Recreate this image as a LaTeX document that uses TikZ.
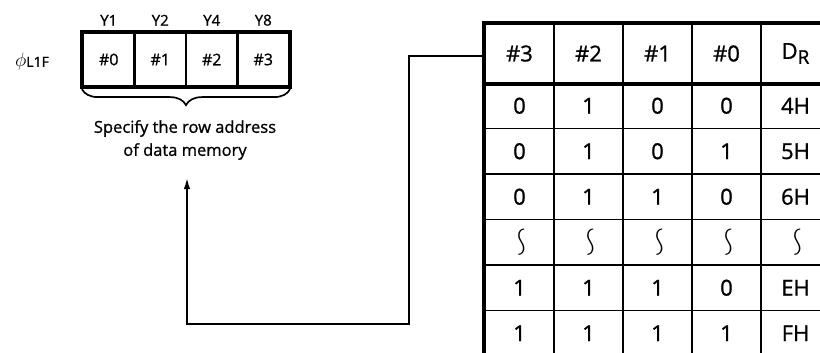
\documentclass[tikz,border=0pt]{standalone}
\usepackage{fontspec}
\setmainfont{Open Sans}[FakeBold=1]
\usepackage{graphicx}
\usetikzlibrary{arrows.meta, positioning, calc, decorations.pathreplacing}
\newcommand{\wavy}{\reflectbox{\rotatebox{90}{\scalebox{1.9}[1.3]{$\sim$}}}}

\begin{document}
\begin{tikzpicture}[x=1pt, y=-1pt,
        regcell/.style={rectangle, draw, line width=2.2pt, minimum width=51.5pt, minimum height=53pt, inner sep=0pt, font=\fontsize{16}{16}\selectfont},
        tabcell/.style={rectangle, draw, line width=1.8pt, minimum width=69pt, minimum height=45.5pt, inner sep=0pt, font=\fontsize{22}{22}\selectfont},
        hdcell/.style={tabcell, minimum height=59pt},
        bitlbl/.style={font=\fontsize{15}{15}\selectfont, inner sep=1pt},
        note/.style={font=\fontsize{16.5}{23}\selectfont, align=center},
        thickline/.style={line width=3.5pt},
        arr/.style={-{Latex[length=11pt, width=6.5pt]}, line width=1.7pt},
    ]
    \clip (0,0) rectangle (820,353);
    % register phi L1F
    \node[font=\fontsize{14}{14}\selectfont] at (32,62) (regname) {\scalebox{1.35}{$\phi$}L1F};
    \node[regcell] at (108.75,59.5) (r0) {\#0};
    \node[regcell] at (160.25,59.5) (r1) {\#1};
    \node[regcell] at (211.75,59.5) (r2) {\#2};
    \node[regcell] at (263.25,59.5) (r3) {\#3};
    \draw[thickline] (r0.north west) rectangle (r3.south east);
    \node[bitlbl, above=5pt of r0] (y1) {Y1};
    \node[bitlbl, above=5pt of r1] (y2) {Y2};
    \node[bitlbl, above=5pt of r2] (y4) {Y4};
    \node[bitlbl, above=5pt of r3] (y8) {Y8};
    \draw[line width=1.7pt, decorate, decoration={brace, amplitude=16pt}] ([yshift=-2pt]r3.south east) -- ([yshift=-2pt]r0.south west);
    \node[note] at (185,140) (spec) {Specify the row address\\of data memory};
    % table
    \node[hdcell] at (519.5,53.5) (h3) {\#3};
    \node[hdcell] at (588.5,53.5) (h2) {\#2};
    \node[hdcell] at (657.5,53.5) (h1) {\#1};
    \node[hdcell] at (726.5,53.5) (h0) {\#0};
    \node[hdcell] at (795.5,53.5) (hd) {D\raisebox{-5pt}{\fontsize{19}{19}\selectfont R}};
    \foreach \rowvals [count=\r from 0] in {{0,1,0,0,4H},{0,1,0,1,5H},{0,1,1,0,6H},{\wavy,\wavy,\wavy,\wavy,\wavy},{1,1,1,0,EH},{1,1,1,1,FH}}{
        \foreach \v [count=\c from 0] in \rowvals {
            \node[tabcell] at (519.5+69*\c, 105.75+45.5*\r) (t\r c\c) {\v};
        }
    }
    \draw[thickline] (t5c0.south west) -- (h3.north west) -- (hd.north east);
    \draw[thickline] (h3.south west) -- (hd.south east);
    % connector
    \coordinate (bend) at (409,324);
    \coordinate (tip) at (187,178);
    \draw[arr] ([yshift=-2.5pt]h3.west) -| (bend) -| (tip);
\end{tikzpicture}
\end{document}
